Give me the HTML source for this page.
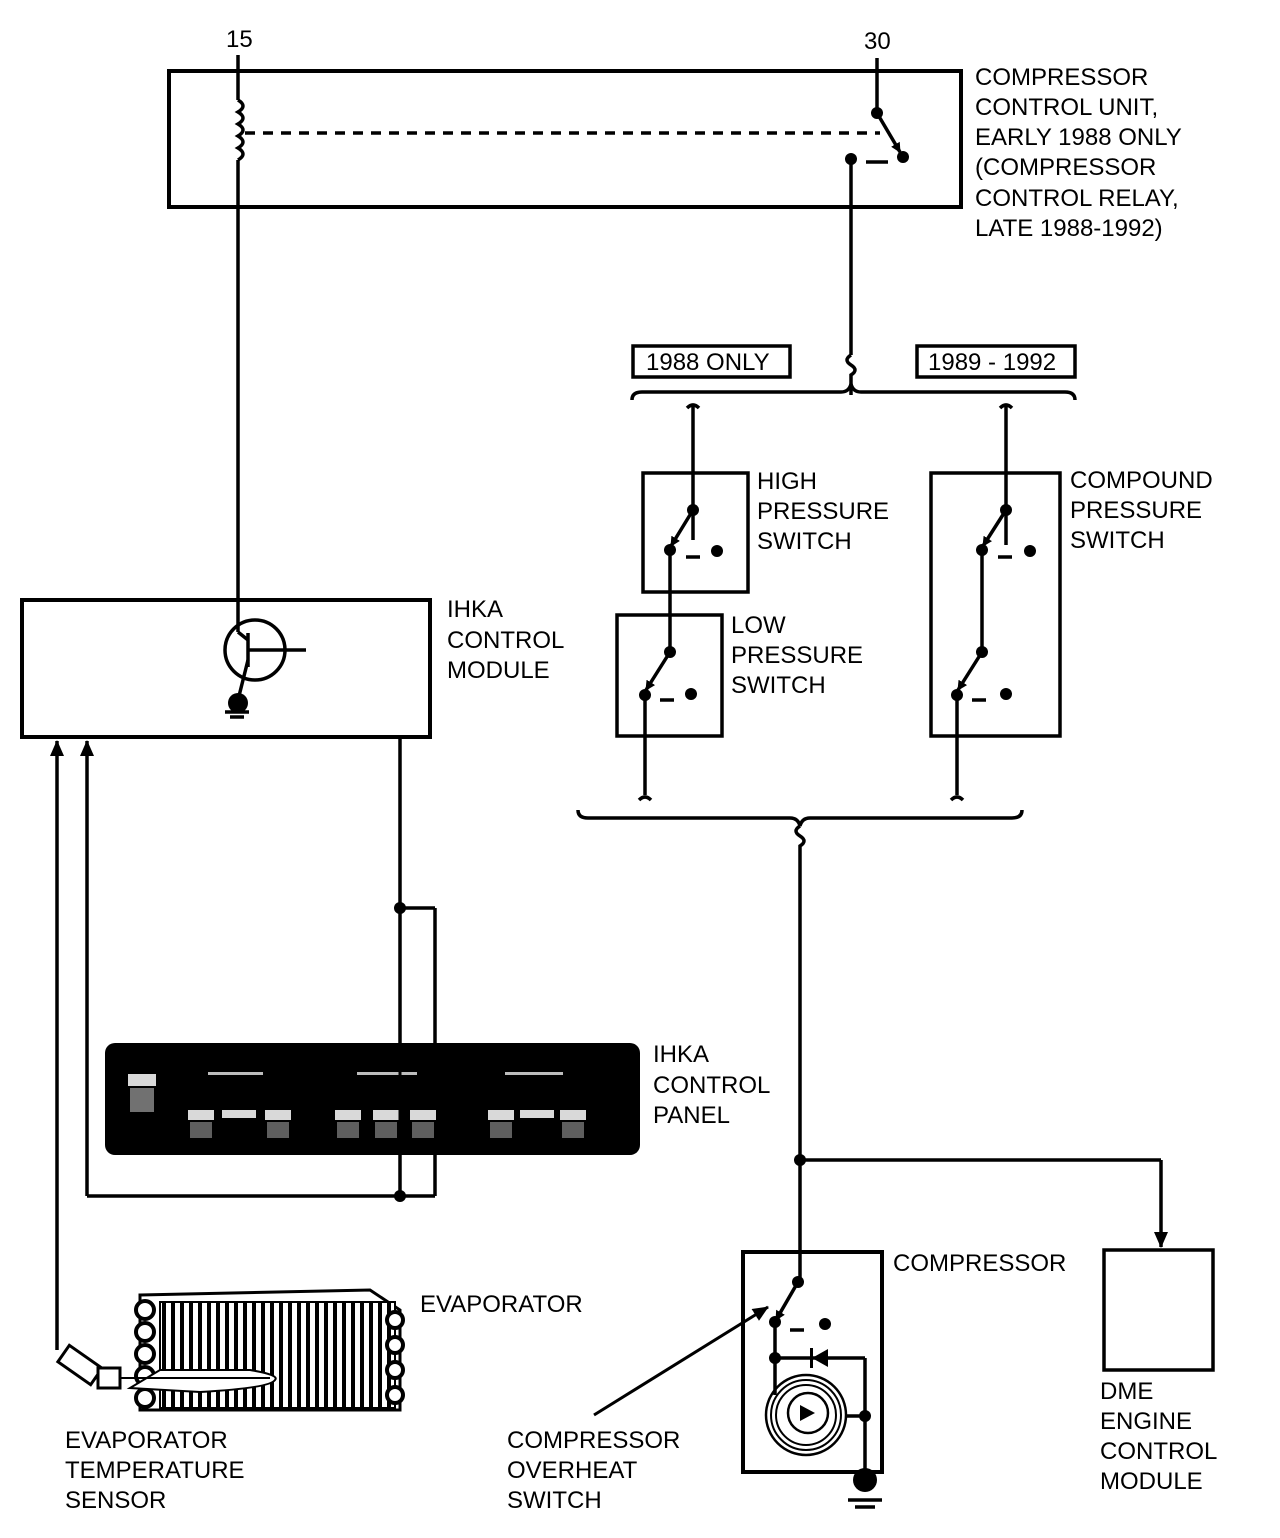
<!DOCTYPE html>
<html><head><meta charset="utf-8"><style>
html,body{margin:0;padding:0;background:#fff;}
svg{display:block}
text{font-family:"Liberation Sans",sans-serif;font-size:24px;fill:#000;}
</style></head><body>
<svg width="1280" height="1538" viewBox="0 0 1280 1538" xmlns="http://www.w3.org/2000/svg">
<defs>
<pattern id="fins" width="9" height="10" patternUnits="userSpaceOnUse"><rect width="9" height="10" fill="#fff"/><rect width="4" height="10" fill="#000"/></pattern>
<marker id="ah" markerWidth="10" markerHeight="10" refX="9" refY="5" orient="auto" markerUnits="userSpaceOnUse"><path d="M0,0 L10,5 L0,10 z" fill="#000"/></marker>
<marker id="ah2" markerWidth="16" markerHeight="14" refX="15" refY="7" orient="auto" markerUnits="userSpaceOnUse"><path d="M0,0 L16,7 L0,14 z" fill="#000"/></marker>
</defs>
<g fill="none" stroke="#000" stroke-width="3.5">
<rect x="169" y="71" width="792" height="136" stroke-width="4"/>
<line x1="238" y1="55" x2="238" y2="100"/>
<path d="M238,100 q10,6 0,12 q10,6 0,12 q10,6 0,12 q10,6 0,12 q10,6 0,12" />
<line x1="238" y1="160" x2="238" y2="632"/>
<line x1="245" y1="133" x2="880" y2="133" stroke-dasharray="10,8"/>
<line x1="877" y1="58" x2="877" y2="113"/>
<line x1="877" y1="113" x2="900" y2="152" marker-end="url(#ah)"/>
<line x1="866" y1="162" x2="888" y2="162"/>
<line x1="851" y1="160" x2="851" y2="355"/>
<path d="M851,355 q-8,5 0,10 q8,5 0,10 L851,395"/>
<rect x="633" y="346" width="157" height="31"/>
<rect x="917" y="346" width="158" height="31"/>
<path d="M632,400 q0,-8 10,-8 L841,392 q8,0 10,-8 q2,8 10,8 L1065,392 q10,0 10,8"/>
<path d="M693,405 L693,540 M1006,405 L1006,545"/>
<path d="M687,408 q6,-6 12,0 M1000,408 q6,-6 12,0"/>
<rect x="643" y="473" width="105" height="119"/>
<rect x="617" y="615" width="105" height="121"/>
<rect x="931" y="473" width="129" height="263"/>
<line x1="693" y1="510" x2="671" y2="546" marker-end="url(#ah)"/>
<line x1="686" y1="557" x2="700" y2="557"/>
<line x1="670" y1="550" x2="670" y2="652"/>
<line x1="670" y1="652" x2="646" y2="690" marker-end="url(#ah)"/>
<line x1="660" y1="700" x2="674" y2="700"/>
<line x1="645" y1="695" x2="645" y2="795"/>
<line x1="1006" y1="510" x2="983" y2="546" marker-end="url(#ah)"/>
<line x1="998" y1="557" x2="1012" y2="557"/>
<line x1="982" y1="550" x2="982" y2="652"/>
<line x1="982" y1="652" x2="958" y2="690" marker-end="url(#ah)"/>
<line x1="972" y1="700" x2="986" y2="700"/>
<line x1="957" y1="695" x2="957" y2="795"/>
<path d="M639,800 q6,-6 12,0 M951,800 q6,-6 12,0"/>
<path d="M578,810 q0,8 10,8 L790,818 q8,0 10,8 q2,-8 10,-8 L1012,818 q10,0 10,-8"/>
<path d="M800,826 q-8,5 0,10 q8,5 0,10 L800,1280"/>
<line x1="800" y1="1160" x2="1161" y2="1160"/>
<line x1="1161" y1="1160" x2="1161" y2="1247" marker-end="url(#ah2)"/>
<rect x="1104" y="1250" width="109" height="120"/>
<rect x="743" y="1252" width="139" height="220" stroke-width="4"/>
<line x1="798" y1="1282" x2="776" y2="1320" marker-end="url(#ah)"/>
<line x1="790" y1="1330" x2="804" y2="1330"/>
<line x1="775" y1="1322" x2="775" y2="1395"/>
<line x1="775" y1="1358" x2="865" y2="1358"/>
<line x1="865" y1="1358" x2="865" y2="1478"/>
<line x1="845" y1="1416" x2="865" y2="1416"/>
<circle cx="806" cy="1415" r="40" stroke-width="2.5"/>
<circle cx="806" cy="1415" r="35" stroke-width="2"/>
<circle cx="806" cy="1415" r="30" stroke-width="2"/>
<circle cx="808" cy="1413" r="20" stroke-width="2.5"/>
<line x1="594" y1="1415" x2="768" y2="1307" stroke-width="3" marker-end="url(#ah2)"/>
<line x1="848" y1="1500" x2="882" y2="1500"/>
<line x1="855" y1="1507" x2="875" y2="1507"/>
<rect x="22" y="600" width="408" height="137" stroke-width="4"/>
<circle cx="255" cy="650" r="30"/>
<line x1="248" y1="633" x2="248" y2="667"/>
<line x1="248" y1="650" x2="306" y2="650"/>
<line x1="238" y1="632" x2="248" y2="640"/>
<line x1="248" y1="660" x2="238" y2="700"/>
<line x1="225" y1="712" x2="249" y2="712"/>
<line x1="230" y1="717" x2="244" y2="717"/>
<line x1="57" y1="1350" x2="57" y2="741" marker-end="url(#ah2)"/>
<line x1="87" y1="1196" x2="87" y2="741" marker-end="url(#ah2)"/>
<line x1="87" y1="1196" x2="435" y2="1196"/>
<line x1="435" y1="908" x2="435" y2="1196"/>
<line x1="400" y1="737" x2="400" y2="1196"/>
<line x1="400" y1="908" x2="435" y2="908"/>
</g>
<g fill="#000">
<circle cx="877" cy="113" r="6"/><circle cx="903" cy="157" r="6"/><circle cx="851" cy="159" r="6"/>
<circle cx="693" cy="510" r="6"/><circle cx="670" cy="550" r="6"/><circle cx="717" cy="551" r="6"/>
<circle cx="670" cy="652" r="6"/><circle cx="645" cy="695" r="6"/><circle cx="691" cy="694" r="6"/>
<circle cx="1006" cy="510" r="6"/><circle cx="982" cy="550" r="6"/><circle cx="1030" cy="551" r="6"/>
<circle cx="982" cy="652" r="6"/><circle cx="957" cy="695" r="6"/><circle cx="1006" cy="694" r="6"/>
<circle cx="800" cy="1160" r="6"/><circle cx="798" cy="1282" r="6"/><circle cx="775" cy="1322" r="6"/><circle cx="825" cy="1324" r="6"/>
<circle cx="775" cy="1358" r="6"/><circle cx="865" cy="1416" r="6"/>
<circle cx="865" cy="1480" r="12"/>
<path d="M812,1358 L828,1349 L828,1367 z"/><rect x="810" y="1348" width="3" height="20"/>
<path d="M800,1405 L815,1413 L800,1421 z"/>
<circle cx="238" cy="703" r="10"/>
<circle cx="400" cy="908" r="6"/><circle cx="400" cy="1196" r="6"/>
<rect x="105" y="1043" width="535" height="112" rx="10"/>
</g>
<g fill="#ddd" opacity="0.85">
<rect x="128" y="1074" width="28" height="12" fill="#fff"/><rect x="130" y="1088" width="24" height="24" opacity="0.6"/>
<rect x="188" y="1110" width="26" height="10" fill="#fff"/><rect x="190" y="1122" width="22" height="16" opacity="0.5"/>
<rect x="222" y="1110" width="34" height="8" fill="#fff"/>
<rect x="265" y="1110" width="26" height="10" fill="#fff"/><rect x="267" y="1122" width="22" height="16" opacity="0.5"/>
<rect x="335" y="1110" width="26" height="10" fill="#fff"/><rect x="337" y="1122" width="22" height="16" opacity="0.5"/>
<rect x="373" y="1110" width="26" height="10" fill="#fff"/><rect x="375" y="1122" width="22" height="16" opacity="0.5"/>
<rect x="410" y="1110" width="26" height="10" fill="#fff"/><rect x="412" y="1122" width="22" height="16" opacity="0.5"/>
<rect x="488" y="1110" width="26" height="10" fill="#fff"/><rect x="490" y="1122" width="22" height="16" opacity="0.5"/>
<rect x="520" y="1110" width="34" height="8" fill="#fff"/>
<rect x="560" y="1110" width="26" height="10" fill="#fff"/><rect x="562" y="1122" width="22" height="16" opacity="0.5"/>
<rect x="208" y="1072" width="55" height="3"/><rect x="357" y="1072" width="60" height="3"/><rect x="505" y="1072" width="58" height="3"/>
</g>
<line x1="400" y1="1043" x2="400" y2="1155" stroke="#000" stroke-width="3"/>
<path d="M140,1295 L370,1290 L400,1310 L400,1410 L140,1410 z" fill="#fff" stroke="#000" stroke-width="3"/>
<rect x="160" y="1302" width="235" height="106" fill="url(#fins)" stroke="#000" stroke-width="2"/>
<g fill="#fff" stroke="#000" stroke-width="4">
<circle cx="145" cy="1310" r="9"/><circle cx="145" cy="1332" r="9"/><circle cx="145" cy="1354" r="9"/><circle cx="145" cy="1376" r="9"/><circle cx="145" cy="1398" r="9"/>
<circle cx="395" cy="1320" r="8"/><circle cx="395" cy="1345" r="8"/><circle cx="395" cy="1370" r="8"/><circle cx="395" cy="1395" r="8"/>
</g>
<path d="M160,1370 L250,1370 Q280,1375 275,1380 Q270,1388 200,1392 L130,1388 z" fill="#fff" stroke="#000" stroke-width="2"/>
<line x1="110" y1="1378" x2="270" y2="1378" stroke="#000" stroke-width="2"/>
<g transform="rotate(35 80 1365)"><rect x="60" y="1355" width="40" height="20" fill="#fff" stroke="#000" stroke-width="3"/></g>
<rect x="98" y="1368" width="22" height="20" fill="#fff" stroke="#000" stroke-width="3"/>
<text x="226" y="47">15</text>
<text x="864" y="49">30</text>
<text x="975" y="85">COMPRESSOR</text>
<text x="975" y="115">CONTROL UNIT,</text>
<text x="975" y="145">EARLY 1988 ONLY</text>
<text x="975" y="175">(COMPRESSOR</text>
<text x="975" y="206">CONTROL RELAY,</text>
<text x="975" y="236">LATE 1988-1992)</text>
<text x="646" y="370" font-size="23">1988 ONLY</text>
<text x="928" y="370" font-size="23">1989 - 1992</text>
<text x="757" y="489">HIGH</text>
<text x="757" y="519">PRESSURE</text>
<text x="757" y="549">SWITCH</text>
<text x="731" y="633">LOW</text>
<text x="731" y="663">PRESSURE</text>
<text x="731" y="693">SWITCH</text>
<text x="1070" y="488">COMPOUND</text>
<text x="1070" y="518">PRESSURE</text>
<text x="1070" y="548">SWITCH</text>
<text x="447" y="617">IHKA</text>
<text x="447" y="648">CONTROL</text>
<text x="447" y="678">MODULE</text>
<text x="653" y="1062">IHKA</text>
<text x="653" y="1093">CONTROL</text>
<text x="653" y="1123">PANEL</text>
<text x="420" y="1312">EVAPORATOR</text>
<text x="893" y="1271">COMPRESSOR</text>
<text x="65" y="1448">EVAPORATOR</text>
<text x="65" y="1478">TEMPERATURE</text>
<text x="65" y="1508">SENSOR</text>
<text x="507" y="1448">COMPRESSOR</text>
<text x="507" y="1478">OVERHEAT</text>
<text x="507" y="1508">SWITCH</text>
<text x="1100" y="1399">DME</text>
<text x="1100" y="1429">ENGINE</text>
<text x="1100" y="1459">CONTROL</text>
<text x="1100" y="1489">MODULE</text>
</svg>
</body></html>
